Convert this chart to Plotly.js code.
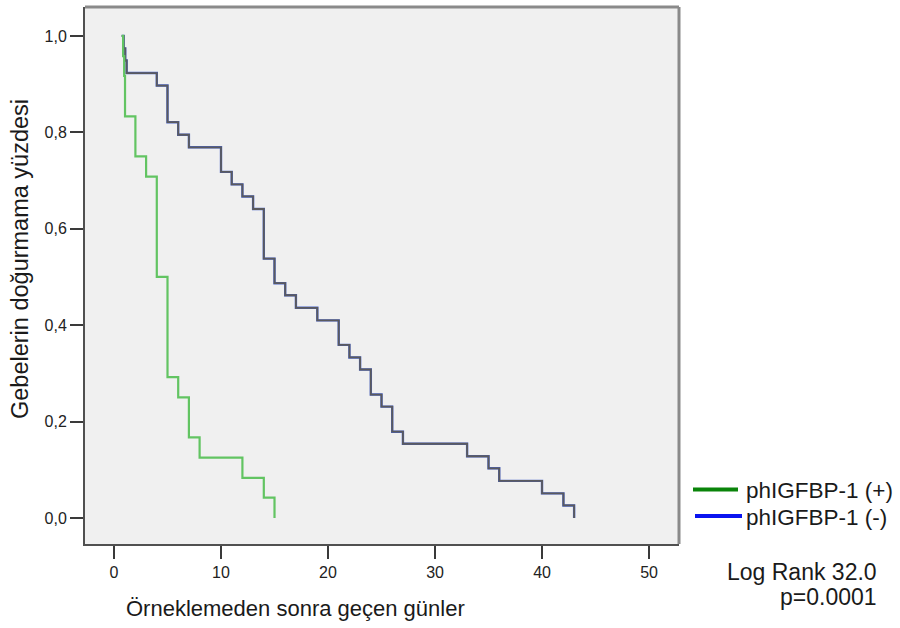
<!DOCTYPE html>
<html>
<head>
<meta charset="utf-8">
<script src="https://cdn.plot.ly/plotly-3.0.1.min.js"></script>
<style>
  html, body { margin: 0; padding: 0; background: #ffffff; }
  #chart { width: 900px; height: 628px; }
</style>
</head>
<body>
<div id="chart"></div>
<script>
// Kaplan-Meier data (days, proportion not delivered)
const groupNames = ["phIGFBP-1 (+)", "phIGFBP-1 (-)"];

const posDays = [0.72, 0.85, 0.95, 1.03, 2, 3, 4, 5, 6, 7, 8, 12, 14, 15];
const posSurv = [1.0, 0.958, 0.917, 0.833, 0.75, 0.708, 0.5, 0.292, 0.25, 0.167, 0.125, 0.083, 0.042, 0.0];

const negDays = [0.72, 0.9, 1.05, 1.18, 4, 5, 6, 7, 10, 11, 12, 13, 14, 15, 16, 17, 19, 21, 22, 23, 24, 25, 26, 27, 33, 35, 36, 40, 42, 43];
const negSurv = [1.0, 0.974, 0.949, 0.923, 0.897, 0.821, 0.795, 0.769, 0.718, 0.692, 0.667, 0.641, 0.538, 0.487, 0.462, 0.436, 0.410, 0.359, 0.333, 0.308, 0.256, 0.231, 0.179, 0.154, 0.128, 0.103, 0.077, 0.051, 0.026, 0.0];

const xTicks = [0, 10, 20, 30, 40, 50];
const yTicks = [0, 0.2, 0.4, 0.6, 0.8, 1.0];

const xTitle = "Örneklemeden sonra geçen günler";
const yTitle = "Gebelerin doğurmama yüzdesi";
const statLines = ["Log Rank 32.0", "p=0.0001"];

const FONT = "Liberation Sans, Arial, sans-serif";

const traces = [
  { x: negDays, y: negSurv, type: "scatter", mode: "lines", name: groupNames[1],
    line: { shape: "hv", color: "#4863c8", width: 2.4 }, showlegend: false, hoverinfo: "skip" },
  { x: negDays, y: negSurv, type: "scatter", mode: "lines", name: groupNames[1],
    line: { shape: "hv", color: "#5a5a5e", width: 1.8 }, showlegend: false },
  { x: posDays, y: posSurv, type: "scatter", mode: "lines", name: groupNames[0],
    line: { shape: "hv", color: "#62c462", width: 2.2 }, showlegend: false }
];

// plot area: x 85..679 px, y 7..544 px
const px = v => (v - 85) / 594;
const py = v => (544 - v) / 537;

const layout = {
  width: 900, height: 628,
  margin: { l: 85, r: 221, t: 7, b: 84 },
  paper_bgcolor: "#ffffff",
  plot_bgcolor: "#f0f0f0",
  separators: ", ",
  font: { family: FONT, color: "#222222" },
  showlegend: false,
  xaxis: {
    range: [-2.71, 52.8], tickvals: xTicks, ticks: "outside", ticklen: 13, tickwidth: 2,
    tickcolor: "#3a3a3a", showgrid: false, zeroline: false,
    showline: true, linecolor: "#505050", linewidth: 2,
    tickfont: { size: 16, color: "#222222", family: FONT }
  },
  yaxis: {
    range: [-0.054, 1.06], tickvals: yTicks, tickformat: ".1f", ticks: "outside", ticklen: 13,
    tickwidth: 2, tickcolor: "#3a3a3a", showgrid: false, zeroline: false,
    showline: true, linecolor: "#505050", linewidth: 2,
    tickfont: { size: 16, color: "#222222", family: FONT }
  },
  shapes: [
    { type: "line", xref: "paper", yref: "paper", x0: 0, x1: 1, y0: 1, y1: 1,
      line: { color: "#8a8a8a", width: 3 } },
    { type: "line", xref: "paper", yref: "paper", x0: 1, x1: 1, y0: 0, y1: 1,
      line: { color: "#8a8a8a", width: 3 } },
    { type: "line", xref: "paper", yref: "paper", x0: px(693), x1: px(738), y0: py(489.5), y1: py(489.5),
      line: { color: "#0a840a", width: 4 } },
    { type: "line", xref: "paper", yref: "paper", x0: px(695), x1: px(742), y0: py(516), y1: py(516),
      line: { color: "#0a14f0", width: 4 } }
  ],
  annotations: [
    { xref: "paper", yref: "paper", x: px(124), y: py(608), xanchor: "left", yanchor: "middle",
      text: xTitle, showarrow: false, font: { size: 22, color: "#1a1a1a", family: FONT } },
    { xref: "paper", yref: "paper", x: px(20), y: py(259), xanchor: "center", yanchor: "middle",
      textangle: -90, text: yTitle, showarrow: false, font: { size: 23.5, color: "#1a1a1a", family: FONT } },
    { xref: "paper", yref: "paper", x: px(744), y: py(490), xanchor: "left", yanchor: "middle",
      text: groupNames[0], showarrow: false, font: { size: 22.5, color: "#1a1a1a", family: FONT } },
    { xref: "paper", yref: "paper", x: px(744), y: py(517.5), xanchor: "left", yanchor: "middle",
      text: groupNames[1], showarrow: false, font: { size: 22.5, color: "#1a1a1a", family: FONT } },
    { xref: "paper", yref: "paper", x: px(879), y: py(572), xanchor: "right", yanchor: "middle",
      text: statLines[0], showarrow: false, font: { size: 23, color: "#1a1a1a", family: FONT } },
    { xref: "paper", yref: "paper", x: px(879), y: py(597), xanchor: "right", yanchor: "middle",
      text: statLines[1], showarrow: false, font: { size: 23, color: "#1a1a1a", family: FONT } }
  ]
};

Plotly.newPlot("chart", traces, layout, { displayModeBar: false, staticPlot: true });
</script>
</body>
</html>
